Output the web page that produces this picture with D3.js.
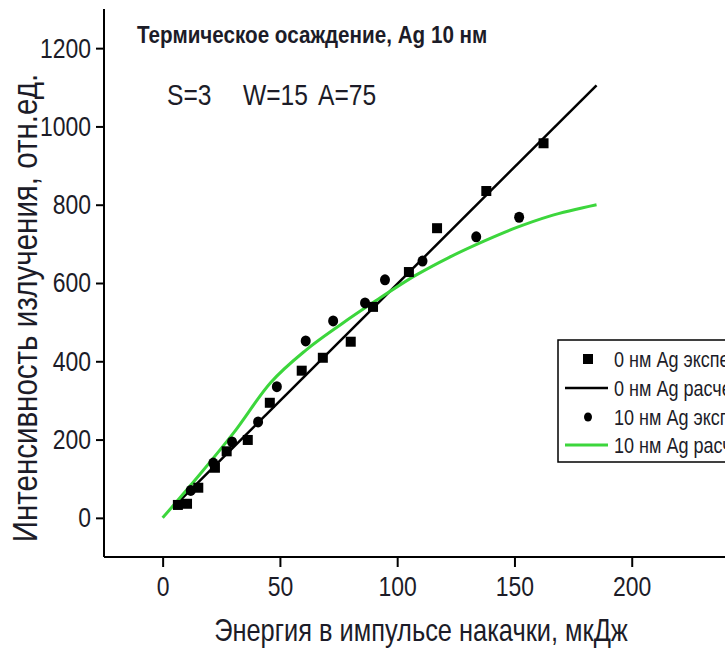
<!DOCTYPE html>
<html>
<head>
<meta charset="utf-8">
<script src="https://cdn.jsdelivr.net/npm/d3@7/dist/d3.min.js"></script>
<style>
  html, body { margin: 0; padding: 0; background: #fff; }
  svg { display: block; }
  text { font-family: "Liberation Sans", Arial, sans-serif; fill: #1c1c28; }
</style>
</head>
<body>
<svg id="chart" width="725" height="649"></svg>
<script>
// Experimental points, 0 nm Ag (squares)
const exp0X = [6.5, 10.4, 15.2, 22.3, 27.3, 36.3, 45.7, 59.3, 68.3, 80.2, 89.7, 105, 117, 138, 162.4];
const exp0Y = [33, 36, 77, 128, 170, 199, 294, 376, 409, 450, 539, 628, 740, 835, 957];

// Experimental points, 10 nm Ag (circles)
const exp10X = [12, 21.6, 29.6, 40.7, 48.7, 61, 72.7, 86.3, 94.8, 110.8, 133.7, 152];
const exp10Y = [70, 140, 194, 245, 335, 452, 503, 549, 608, 656, 718, 768];

// Calculated curve, 0 nm Ag
const calc0X = [5, 185];
const calc0Y = [30, 1105];

// Calculated curve, 10 nm Ag
const calc10X = [0, 16, 30, 46, 61, 76, 91, 108, 122, 137, 151, 165, 185];
const calc10Y = [0, 112, 215, 345, 428, 494, 555, 620, 665, 707, 742, 771, 800];

const xMajor = [0, 50, 100, 150, 200];
const xMinor = [-25, 25, 75, 125, 175, 225];
const yMajor = [0, 200, 400, 600, 800, 1000, 1200];
const yMinor = [-100, 100, 300, 500, 700, 900, 1100, 1300];

const legendLabels = ["0 нм Ag эксперимент", "0 нм Ag расчет", "10 нм Ag эксперимент", "10 нм Ag расчет"];

const GREEN = "#3cd63c";
const NARROW = 0.82; // horizontal squeeze giving a narrow sans face

const svg = d3.select("#chart");

const x = d3.scaleLinear().domain([-25, 250]).range([104, 749]);
const y = d3.scaleLinear().domain([-100, 1300]).range([557, 9]);

const zip = (xs, ys) => xs.map((v, i) => [v, ys[i]]);

// Turn x/y placement into a transform so the glyphs can be condensed
function narrow(sel, extra = "", k = NARROW) {
  sel.each(function() {
    const t = d3.select(this);
    const tx = +t.attr("x") || 0, ty = +t.attr("y") || 0;
    t.attr("x", null).attr("y", null)
      .attr("transform", `translate(${tx},${ty}) ${extra} scale(${k},1)`);
  });
}

// Axes
const axisFont = 28;
const gx = svg.append("g").attr("transform", `translate(0,${y(-100)})`);
gx.call(d3.axisBottom(x).tickValues(xMinor).tickSize(6).tickFormat(""));
gx.call(d3.axisBottom(x).tickValues(xMajor).tickSize(10).tickPadding(9).tickFormat(d3.format("d")));
gx.selectAll(".tick line").attr("stroke-width", 2);
gx.selectAll(".tick text").attr("font-size", axisFont).call(narrow);

const gy = svg.append("g").attr("transform", `translate(${x(-25)},0)`);
gy.call(d3.axisLeft(y).tickValues(yMinor).tickSize(5).tickFormat(""));
gy.call(d3.axisLeft(y).tickValues(yMajor).tickSize(8).tickPadding(5).tickFormat(d3.format("d")));
gy.selectAll(".tick line").attr("stroke-width", 2);
gy.selectAll(".tick text").attr("font-size", axisFont).call(narrow);

// plain L-shaped spines without end caps
gx.selectAll(".domain").attr("d", `M${x(-25)},0H${x(250)}`).attr("stroke-width", 2);
gy.selectAll(".domain").attr("d", `M0,${y(1300)}V${y(-100)}`).attr("stroke-width", 2);

// Axis titles
svg.append("text")
  .attr("x", 421).attr("y", 641)
  .attr("text-anchor", "middle").attr("font-size", 31)
  .text("Энергия в импульсе накачки, мкДж").call(narrow);

svg.append("text")
  .attr("x", 37).attr("y", 308)
  .attr("text-anchor", "middle").attr("font-size", 36)
  .text("Интенсивность излучения, отн.ед.").call(narrow, "rotate(-90)");

// Title and parameters
svg.append("text").attr("x", 137).attr("y", 43)
  .attr("font-size", 24).attr("font-weight", "bold")
  .text("Термическое осаждение, Ag 10 нм").call(narrow, "", 0.86);

const params = [["S=3", 167], ["W=15", 243], ["A=75", 318]];
svg.selectAll(".param").data(params).enter().append("text")
  .attr("class", "param").attr("x", d => d[1]).attr("y", 105)
  .attr("font-size", 30).text(d => d[0]).call(narrow);

// Calculated curves
const line = d3.line().x(d => x(d[0])).y(d => y(d[1]));
svg.append("path").datum(zip(calc0X, calc0Y)).attr("d", line)
  .attr("fill", "none").attr("stroke", "#000").attr("stroke-width", 2.5);
svg.append("path").datum(zip(calc10X, calc10Y)).attr("d", line.curve(d3.curveMonotoneX))
  .attr("fill", "none").attr("stroke", GREEN).attr("stroke-width", 3);

// Experimental markers
svg.selectAll(".sq").data(zip(exp0X, exp0Y)).enter().append("rect")
  .attr("class", "sq")
  .attr("x", d => x(d[0]) - 5).attr("y", d => y(d[1]) - 5)
  .attr("width", 10).attr("height", 10).attr("fill", "#000");
svg.selectAll(".dot").data(zip(exp10X, exp10Y)).enter().append("ellipse")
  .attr("class", "dot")
  .attr("cx", d => x(d[0])).attr("cy", d => y(d[1]))
  .attr("rx", 5).attr("ry", 5.5).attr("fill", "#000");

// Legend
const lg = svg.append("g").attr("transform", "translate(558,340)");
lg.append("rect").attr("x", 0).attr("y", 0).attr("width", 260).attr("height", 122)
  .attr("fill", "#fff").attr("stroke", "#000").attr("stroke-width", 1.5);
const rowY = [19, 48, 77, 105];
lg.append("rect").attr("x", 25).attr("y", rowY[0] - 5).attr("width", 10).attr("height", 10).attr("fill", "#000");
lg.append("line").attr("x1", 7).attr("x2", 50).attr("y1", rowY[1]).attr("y2", rowY[1]).attr("stroke", "#000").attr("stroke-width", 2.5);
lg.append("ellipse").attr("cx", 30).attr("cy", rowY[2]).attr("rx", 4).attr("ry", 4.5).attr("fill", "#000");
lg.append("line").attr("x1", 7).attr("x2", 50).attr("y1", rowY[3]).attr("y2", rowY[3]).attr("stroke", GREEN).attr("stroke-width", 3);
lg.selectAll(".lt").data(legendLabels).enter().append("text")
  .attr("class", "lt").attr("x", 56).attr("y", (d, i) => rowY[i])
  .attr("dy", "0.36em").attr("font-size", 22).text(d => d).call(narrow);
</script>
</body>
</html>
